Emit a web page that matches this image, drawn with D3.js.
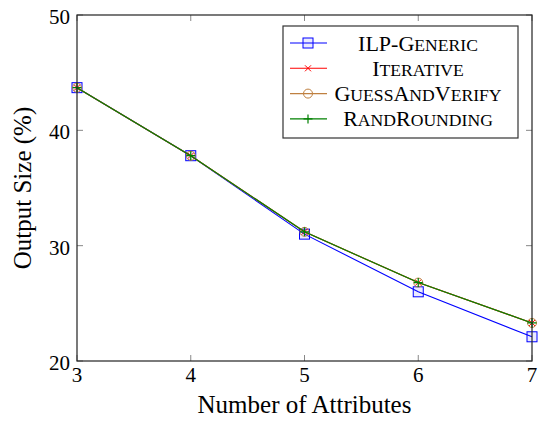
<!DOCTYPE html>
<html>
<head>
  <style>
    body { margin: 0; background: #fff; }
    svg text { font-family: "Liberation Serif", "Times New Roman", serif; fill: #000; }
  </style>
</head>
<body>
  <div id="chart"></div>
  <script src="https://d3js.org/d3.v7.min.js"></script>
  <script>
    // Data
    const attributes = [3, 4, 5, 6, 7];
    const ilpGeneric = [43.7, 37.8, 31.0, 26.0, 22.1];
    const iterative = [43.7, 37.8, 31.2, 26.8, 23.3];
    const guessAndVerify = [43.7, 37.8, 31.2, 26.8, 23.3];
    const randRounding = [43.7, 37.8, 31.2, 26.8, 23.3];
    const yTicks = [20, 30, 40, 50];

    const series = [
      { name: "ILP-Generic", values: ilpGeneric, color: "#0000ff", mark: "square" },
      { name: "Iterative", values: iterative, color: "#ff0000", mark: "cross" },
      { name: "GuessAndVerify", values: guessAndVerify, color: "#bf8040", mark: "circle" },
      { name: "RandRounding", values: randRounding, color: "#008000", mark: "plus" }
    ];

    const width = 541, height = 423;
    const margin = { left: 77, right: 9, top: 15, bottom: 62 };

    const svg = d3.select("#chart")
      .append("svg")
      .attr("width", width)
      .attr("height", height);

    const x = d3.scaleLinear()
      .domain([3, 7])
      .range([margin.left, width - margin.right]);

    const y = d3.scaleLinear()
      .domain([20, 50])
      .range([height - margin.bottom, margin.top]);

    // inward ticks on all four sides
    const tickLen = 6;
    const ticks = svg.append("g").attr("stroke", "#888").attr("stroke-width", 1);
    attributes.forEach(v => {
      ticks.append("line").attr("x1", x(v)).attr("x2", x(v))
        .attr("y1", y(20)).attr("y2", y(20) - tickLen);
      ticks.append("line").attr("x1", x(v)).attr("x2", x(v))
        .attr("y1", y(50)).attr("y2", y(50) + tickLen);
    });
    yTicks.forEach(v => {
      ticks.append("line").attr("x1", x(3)).attr("x2", x(3) + tickLen)
        .attr("y1", y(v)).attr("y2", y(v));
      ticks.append("line").attr("x1", x(7)).attr("x2", x(7) - tickLen)
        .attr("y1", y(v)).attr("y2", y(v));
    });

    // tick labels
    svg.append("g").selectAll("text")
      .data(attributes)
      .join("text")
      .attr("x", d => x(d))
      .attr("y", y(20) + 21)
      .attr("text-anchor", "middle")
      .attr("font-size", 21)
      .text(d => d);

    svg.append("g").selectAll("text")
      .data(yTicks)
      .join("text")
      .attr("x", x(3) - 7)
      .attr("y", d => y(d) + 9)
      .attr("text-anchor", "end")
      .attr("font-size", 21)
      .text(d => d);

    // axis titles
    svg.append("text")
      .attr("x", (x(3) + x(7)) / 2)
      .attr("y", 413)
      .attr("text-anchor", "middle")
      .attr("font-size", 25)
      .text("Number of Attributes");

    svg.append("text")
      .attr("transform", `translate(31, ${(y(20) + y(50)) / 2}) rotate(-90)`)
      .attr("text-anchor", "middle")
      .attr("font-size", 25)
      .text("Output Size (%)");

    // markers
    function drawMark(g, mark, cx, cy, color) {
      if (mark === "square") {
        g.append("rect").attr("x", cx - 5).attr("y", cy - 5)
          .attr("width", 10).attr("height", 10)
          .attr("fill", "rgba(0,0,255,0.08)").attr("stroke", color).attr("stroke-width", 1);
      } else if (mark === "cross") {
        g.append("path").attr("d", `M${cx - 3},${cy - 3}L${cx + 3},${cy + 3}M${cx - 3},${cy + 3}L${cx + 3},${cy - 3}`)
          .attr("stroke", color).attr("stroke-width", 1);
      } else if (mark === "circle") {
        g.append("circle").attr("cx", cx).attr("cy", cy).attr("r", 4.5)
          .attr("fill", "none").attr("stroke", color).attr("stroke-width", 1);
      } else {
        g.append("path").attr("d", `M${cx - 4.5},${cy}L${cx + 4.5},${cy}M${cx},${cy - 4.5}L${cx},${cy + 4.5}`)
          .attr("stroke", color).attr("stroke-width", 1.2);
      }
    }

    const line = d3.line()
      .x((d, i) => x(attributes[i]))
      .y(d => y(d));

    series.forEach(s => {
      const g = svg.append("g");
      g.append("path")
        .datum(s.values)
        .attr("d", line)
        .attr("fill", "none")
        .attr("stroke", s.color)
        .attr("stroke-width", 1.1);
      s.values.forEach((v, i) => drawMark(g, s.mark, x(attributes[i]), y(v), s.color));
    });

    // frame
    svg.append("rect")
      .attr("x", x(3)).attr("y", y(50))
      .attr("width", x(7) - x(3)).attr("height", y(20) - y(50))
      .attr("fill", "none").attr("stroke", "#222").attr("stroke-width", 1.2);

    // legend
    const legend = svg.append("g");
    legend.append("rect")
      .attr("x", 283).attr("y", 26).attr("width", 235).attr("height", 112)
      .attr("fill", "#fff").attr("stroke", "#333").attr("stroke-width", 1.2);

    function smallCaps(textSel, str) {
      for (const ch of str) {
        const lower = ch !== ch.toUpperCase();
        textSel.append("tspan")
          .attr("font-size", lower ? "0.8em" : "1em")
          .text(ch.toUpperCase());
      }
    }

    series.forEach((s, i) => {
      const cy = 43 + i * 25.3;
      legend.append("line")
        .attr("x1", 290).attr("x2", 327).attr("y1", cy).attr("y2", cy)
        .attr("stroke", s.color).attr("stroke-width", 1.1);
      drawMark(legend, s.mark, 308, cy, s.color);
      const t = legend.append("text")
        .attr("x", 418).attr("y", cy + 7.5)
        .attr("text-anchor", "middle")
        .attr("font-size", 22);
      smallCaps(t, s.name);
    });
  </script>
</body>
</html>
